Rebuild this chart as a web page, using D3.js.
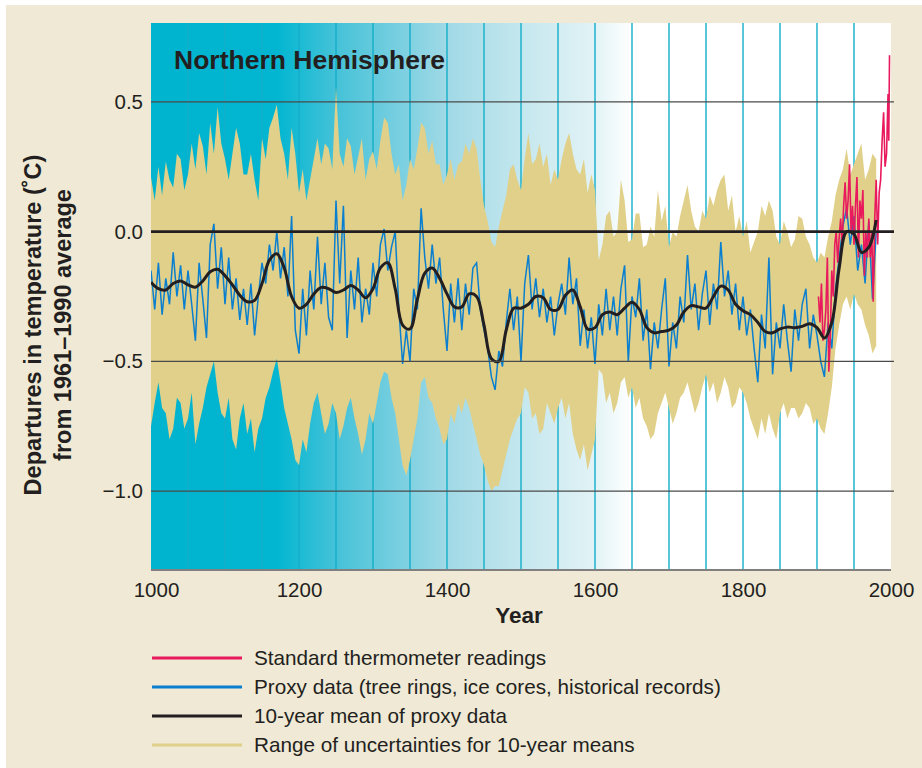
<!DOCTYPE html>
<html>
<head>
<meta charset="utf-8">
<script src="https://cdn.jsdelivr.net/npm/d3@7"></script>
<style>
  body { margin: 0; background: #fff; }
  svg { display: block; font-family: "Liberation Sans", Arial, Helvetica, sans-serif; }
</style>
</head>
<body>
<svg id="chart"></svg>
<script>
// ---- data ----
// proxy record and uncertainty range, every 5 years 1000-1980
const proxyYears = d3.range(1000, 1981, 5);
const proxyValues = [
  -0.15, -0.30, -0.12, -0.32, -0.18, -0.28, -0.08, -0.25, -0.13, -0.30,
  -0.15, -0.28, -0.42, -0.12, -0.26, -0.41, -0.05, 0.03, -0.22, -0.06,
  -0.28, -0.10, -0.30, -0.18, -0.34, -0.22, -0.36, -0.20, -0.40, -0.25,
  -0.12, -0.20, -0.05, -0.15, 0.00, -0.18, -0.06, -0.25, 0.06, -0.38,
  -0.47, -0.22, -0.40, -0.15, -0.30, -0.02, -0.28, -0.12, -0.33, -0.38,
  0.12, -0.20, 0.10, -0.41, -0.15, -0.30, -0.10, -0.35, -0.22, -0.32,
  -0.12, -0.25, -0.05, 0.01, -0.15, -0.06, 0.00, -0.30, -0.51, -0.38,
  -0.50, -0.22, -0.30, 0.09, -0.10, -0.22, -0.05, -0.20, -0.10, -0.30,
  -0.46, -0.20, -0.35, -0.18, -0.38, -0.20, -0.32, -0.14, -0.12, -0.30,
  -0.38, -0.45, -0.56, -0.61, -0.46, -0.52, -0.35, -0.22, -0.38, -0.25,
  -0.50, -0.20, -0.09, -0.30, -0.18, -0.33, -0.22, -0.35, -0.25, -0.40,
  -0.28, -0.20, -0.32, -0.10, -0.28, -0.18, -0.44, -0.30, -0.45, -0.33,
  -0.51, -0.28, -0.40, -0.22, -0.38, -0.25, -0.40, -0.22, -0.13, -0.50,
  -0.25, -0.33, -0.18, -0.42, -0.30, -0.53, -0.35, -0.45, -0.30, -0.18,
  -0.52, -0.35, -0.45, -0.25, -0.35, -0.09, -0.30, -0.20, -0.38, -0.24,
  -0.15, -0.36, -0.20, -0.30, -0.04, -0.25, -0.15, -0.32, -0.20, -0.38,
  -0.25, -0.40, -0.30, -0.45, -0.58, -0.32, -0.45, -0.10, -0.55, -0.35,
  -0.45, -0.28, -0.42, -0.54, -0.30, -0.42, -0.28, -0.22, -0.45, -0.32,
  -0.40, -0.50, -0.56, -0.35, -0.45, -0.22, -0.10, 0.02, 0.09, -0.05,
  0.06, -0.15, -0.05, -0.20, 0.04, -0.26, 0.00
];
const bandUpper = [
  0.21, 0.12, 0.25, 0.14, 0.27, 0.20, 0.17, 0.30, 0.28, 0.16,
  0.22, 0.34, 0.24, 0.38, 0.33, 0.22, 0.42, 0.30, 0.48, 0.34,
  0.28, 0.20, 0.30, 0.40, 0.34, 0.22, 0.22, 0.30, 0.20, 0.12,
  0.36, 0.28, 0.40, 0.44, 0.49, 0.36, 0.30, 0.20, 0.40, 0.30,
  0.15, 0.24, 0.12, 0.20, 0.28, 0.36, 0.26, 0.34, 0.32, 0.24,
  0.56, 0.30, 0.25, 0.36, 0.33, 0.22, 0.29, 0.36, 0.20, 0.28,
  0.31, 0.24, 0.35, 0.44, 0.42, 0.30, 0.22, 0.26, 0.12, 0.18,
  0.28, 0.24, 0.32, 0.42, 0.40, 0.30, 0.35, 0.26, 0.26, 0.18,
  0.22, 0.28, 0.20, 0.26, 0.27, 0.34, 0.30, 0.36, 0.32, 0.20,
  0.10, 0.04, -0.04, -0.06, 0.02, 0.08, 0.14, 0.24, 0.26, 0.20,
  0.16, 0.28, 0.38, 0.26, 0.28, 0.34, 0.25, 0.30, 0.18, 0.24,
  0.20, 0.28, 0.34, 0.38, 0.30, 0.24, 0.22, 0.28, 0.15, 0.22,
  0.16, -0.11, -0.05, 0.06, 0.08, -0.02, 0.00, 0.20, 0.12, -0.04,
  -0.03, 0.07, 0.07, -0.06, -0.05, 0.02, -0.02, 0.16, 0.04, 0.10,
  -0.06, 0.00, -0.02, 0.06, 0.12, 0.18, 0.08, 0.02, 0.00, 0.08,
  0.05, 0.14, 0.10, 0.16, 0.20, 0.22, 0.08, 0.14, 0.00, 0.06,
  -0.02, 0.04, -0.08, -0.04, 0.00, 0.10, 0.06, 0.12, 0.08, -0.02,
  -0.05, 0.04, 0.00, -0.06, -0.03, 0.06, 0.05, -0.02, -0.05, -0.10,
  -0.12, -0.08, -0.10, -0.02, 0.04, 0.14, 0.20, 0.24, 0.32, 0.22,
  0.26, 0.30, 0.34, 0.20, 0.24, 0.30, 0.28
];
const bandLower = [
  -0.75, -0.66, -0.58, -0.68, -0.70, -0.80, -0.76, -0.64, -0.66, -0.76,
  -0.72, -0.62, -0.82, -0.74, -0.68, -0.60, -0.55, -0.50, -0.62, -0.70,
  -0.72, -0.64, -0.80, -0.84, -0.72, -0.66, -0.78, -0.72, -0.85, -0.76,
  -0.72, -0.64, -0.60, -0.54, -0.49, -0.58, -0.68, -0.74, -0.80, -0.88,
  -0.90, -0.80, -0.85, -0.74, -0.66, -0.62, -0.70, -0.78, -0.74, -0.66,
  -0.70, -0.80, -0.75, -0.68, -0.64, -0.72, -0.78, -0.86, -0.80, -0.70,
  -0.74, -0.66, -0.58, -0.54, -0.55, -0.64, -0.70, -0.80, -0.90, -0.94,
  -0.88, -0.80, -0.72, -0.58, -0.56, -0.64, -0.66, -0.72, -0.76, -0.82,
  -0.80, -0.70, -0.74, -0.66, -0.70, -0.64, -0.68, -0.74, -0.80, -0.86,
  -0.90, -0.96, -1.00, -0.98, -0.98, -0.92, -0.86, -0.80, -0.76, -0.72,
  -0.70, -0.60, -0.62, -0.72, -0.70, -0.78, -0.76, -0.66, -0.70, -0.74,
  -0.68, -0.64, -0.72, -0.66, -0.78, -0.84, -0.88, -0.82, -0.92, -0.86,
  -0.80, -0.53, -0.55, -0.66, -0.62, -0.70, -0.66, -0.58, -0.56, -0.64,
  -0.60, -0.68, -0.64, -0.72, -0.75, -0.80, -0.78, -0.70, -0.66, -0.62,
  -0.68, -0.74, -0.70, -0.64, -0.62, -0.58, -0.64, -0.70, -0.66, -0.60,
  -0.55, -0.62, -0.58, -0.66, -0.62, -0.56, -0.60, -0.68, -0.66, -0.60,
  -0.62, -0.66, -0.72, -0.76, -0.80, -0.72, -0.78, -0.70, -0.76, -0.80,
  -0.70, -0.66, -0.72, -0.68, -0.68, -0.72, -0.70, -0.66, -0.68, -0.74,
  -0.72, -0.76, -0.78, -0.70, -0.60, -0.45, -0.36, -0.28, -0.25, -0.30,
  -0.24, -0.28, -0.30, -0.36, -0.40, -0.47, -0.44
];

// 10-year mean, one value per decade 1000-1980
const decadeYears = d3.range(1000, 1981, 10);
const meanValues = [
  -0.195, -0.22, -0.225, -0.20, -0.19, -0.205, -0.214, -0.19, -0.155, -0.145,
  -0.17, -0.205, -0.245, -0.27, -0.265, -0.20, -0.11, -0.085, -0.14, -0.25,
  -0.295, -0.28, -0.24, -0.215, -0.22, -0.235, -0.225, -0.208, -0.225, -0.255,
  -0.22, -0.14, -0.12, -0.22, -0.36, -0.375, -0.26, -0.16, -0.14, -0.18,
  -0.24, -0.29, -0.29, -0.24, -0.25, -0.36, -0.49, -0.50, -0.38, -0.295,
  -0.295, -0.28, -0.25, -0.255, -0.30, -0.30, -0.245, -0.225, -0.29, -0.375,
  -0.37, -0.32, -0.31, -0.32, -0.295, -0.272, -0.30, -0.37, -0.39, -0.385,
  -0.38, -0.36, -0.31, -0.285, -0.29, -0.295, -0.25, -0.21, -0.225, -0.28,
  -0.305, -0.32, -0.35, -0.385, -0.39, -0.375, -0.368, -0.37, -0.365, -0.355,
  -0.37, -0.41, -0.35, -0.14, 0.00, -0.01, -0.08, -0.06, 0.045
];

const thermoYears = [
  1902, 1904, 1906, 1908, 1910, 1912, 1914, 1916, 1918, 1920,
  1922, 1924, 1926, 1928, 1930, 1932, 1934, 1936, 1938, 1940,
  1942, 1944, 1946, 1948, 1950, 1952, 1954, 1956, 1958, 1960,
  1962, 1964, 1966, 1968, 1970, 1972, 1974, 1976, 1978, 1980,
  1982, 1984, 1986, 1988, 1990, 1992, 1994, 1996, 1997, 1998
];
const thermoValues = [
  -0.25, -0.35, -0.20, -0.42, -0.38, -0.30, -0.10, -0.54, -0.40, -0.15,
  -0.25, -0.05, 0.00, -0.12, -0.02, 0.05, -0.05, 0.10, 0.19, 0.05,
  0.12, 0.26, 0.00, 0.10, -0.05, 0.10, 0.21, -0.10, 0.12, 0.05,
  0.16, -0.17, 0.00, -0.10, 0.05, -0.10, 0.00, -0.27, 0.05, 0.20,
  -0.05, 0.15, 0.20, 0.35, 0.46, 0.25, 0.30, 0.53, 0.35, 0.68
];

const yTicks = [0.5, 0.0, -0.5, -1.0];
const xTicks = [1000, 1200, 1400, 1600, 1800, 2000];
const stripeYears = d3.range(1050, 1951, 50);

const legendItems = [
  { label: "Standard thermometer readings", color: "#e8195c" },
  { label: "Proxy data (tree rings, ice cores, historical records)", color: "#0a7fcf" },
  { label: "10-year mean of proxy data", color: "#231f20" },
  { label: "Range of uncertainties for 10-year means", color: "#e0d08a" },
];

// ---- layout ----
const width = 922, height = 768;
const margin = { top: 23, right: 31, bottom: 198, left: 151 };
const innerW = width - margin.left - margin.right;
const innerH = height - margin.top - margin.bottom;

const svg = d3.select("#chart").attr("width", width).attr("height", height);

svg.append("rect").attr("x", 6).attr("y", 5)
  .attr("width", width - 6).attr("height", height - 5)
  .attr("fill", "#efe9d5");

const x = d3.scaleLinear().domain([1000, 2000]).range([0, innerW]);
const y = d3.scaleLinear().domain([-1.304, 0.804]).range([innerH, 0]);

const defs = svg.append("defs");
const grad = defs.append("linearGradient").attr("id", "bg")
  .attr("gradientUnits", "userSpaceOnUse")
  .attr("x1", 0).attr("x2", innerW).attr("y1", 0).attr("y2", 0);
[[1000, "#00b3cf"], [1170, "#02b6d1"], [1250, "#45c2d8"], [1400, "#a0d9e6"],
 [1500, "#c4e7ee"], [1600, "#e2f3f6"], [1650, "#ffffff"], [2000, "#ffffff"]]
  .forEach(([yr, c]) => grad.append("stop").attr("offset", (yr - 1000) / 1000).attr("stop-color", c));

defs.append("clipPath").attr("id", "plotClip")
  .append("rect").attr("width", innerW).attr("height", innerH);

const g = svg.append("g").attr("transform", `translate(${margin.left},${margin.top})`);

g.append("rect").attr("width", innerW).attr("height", innerH).attr("fill", "url(#bg)");

// vertical 50-year stripes
g.selectAll(".stripe").data(stripeYears).join("line")
  .attr("x1", d => x(d)).attr("x2", d => x(d))
  .attr("y1", 0).attr("y2", innerH)
  .attr("stroke", "#14aecb").attr("stroke-width", 1.4);

const plot = g.append("g").attr("clip-path", "url(#plotClip)");

// uncertainty range
const bandData = proxyYears.map((yr, i) => ({ yr, lo: bandLower[i], hi: bandUpper[i] }));
plot.append("path").datum(bandData)
  .attr("fill", "#e0d08a")
  .attr("d", d3.area().x(d => x(d.yr)).y0(d => y(d.lo)).y1(d => y(d.hi)));

// horizontal grid lines
g.selectAll(".grid").data(yTicks).join("line")
  .attr("x1", 0).attr("x2", innerW + 3)
  .attr("y1", d => y(d)).attr("y2", d => y(d))
  .attr("stroke", d => d === 0 ? "#231f20" : "#4a4a4a")
  .attr("stroke-width", d => d === 0 ? 2.6 : 1.1);

// proxy data
plot.append("path").datum(proxyYears.map((yr, i) => [yr, proxyValues[i]]))
  .attr("fill", "none").attr("stroke", "#0a7fcf").attr("stroke-width", 1.5)
  .attr("d", d3.line().x(d => x(d[0])).y(d => y(d[1])));

// thermometer readings
plot.append("path").datum(thermoYears.map((yr, i) => [yr, thermoValues[i]]))
  .attr("fill", "none").attr("stroke", "#e8195c").attr("stroke-width", 1.6)
  .attr("d", d3.line().x(d => x(d[0])).y(d => y(d[1])));

// 10-year mean
plot.append("path").datum(decadeYears.map((yr, i) => [yr, meanValues[i]]))
  .attr("fill", "none").attr("stroke", "#231f20").attr("stroke-width", 3)
  .attr("d", d3.line().curve(d3.curveCatmullRom).x(d => x(d[0])).y(d => y(d[1])));

// bottom axis line
g.append("line").attr("x1", 0).attr("x2", innerW).attr("y1", innerH).attr("y2", innerH)
  .attr("stroke", "#808080").attr("stroke-width", 2);

// axes
const xAxis = g.append("g").attr("transform", `translate(0,${innerH})`)
  .call(d3.axisBottom(x).tickValues(xTicks).tickFormat(d3.format("d")).tickSize(0).tickPadding(12));
xAxis.select(".domain").remove();
xAxis.selectAll("text").attr("font-size", 20.5).attr("fill", "#231f20")
  .attr("font-family", "'Liberation Sans', Arial, sans-serif")
  .attr("dx", d => d === 1000 ? 5 : 0);

const yAxis = g.append("g")
  .call(d3.axisLeft(y).tickValues(yTicks).tickFormat(d3.format(".1f")).tickSize(0).tickPadding(8));
yAxis.select(".domain").remove();
yAxis.selectAll("text").attr("font-size", 20.5).attr("fill", "#231f20")
  .attr("font-family", "'Liberation Sans', Arial, sans-serif");

// titles
g.append("text").attr("x", 23).attr("y", 46)
  .attr("font-size", 26.5).attr("font-weight", "bold").attr("fill", "#231f20")
  .text("Northern Hemisphere");

svg.append("text").attr("x", 519).attr("y", 623).attr("text-anchor", "middle")
  .attr("font-size", 22.5).attr("font-weight", "bold").attr("fill", "#231f20")
  .text("Year");

const yTitle = svg.append("text")
  .attr("transform", "translate(0,325) rotate(-90)")
  .attr("text-anchor", "middle").attr("font-size", 23.5).attr("font-weight", "bold")
  .attr("fill", "#231f20");
yTitle.append("tspan").attr("x", 0).attr("y", 41).text("Departures in temperature (˚C)");
yTitle.append("tspan").attr("x", 0).attr("y", 71).text("from 1961–1990 average");

// legend
const legend = svg.append("g").attr("transform", "translate(152,658)");
const rows = legend.selectAll("g").data(legendItems).join("g")
  .attr("transform", (d, i) => `translate(0,${i * 29})`);
rows.append("line").attr("x1", 0).attr("x2", 90)
  .attr("stroke", d => d.color).attr("stroke-width", 3);
rows.append("text").attr("x", 102).attr("dy", "0.35em")
  .attr("font-size", 20.7).attr("fill", "#231f20").text(d => d.label);
</script>
</body>
</html>
